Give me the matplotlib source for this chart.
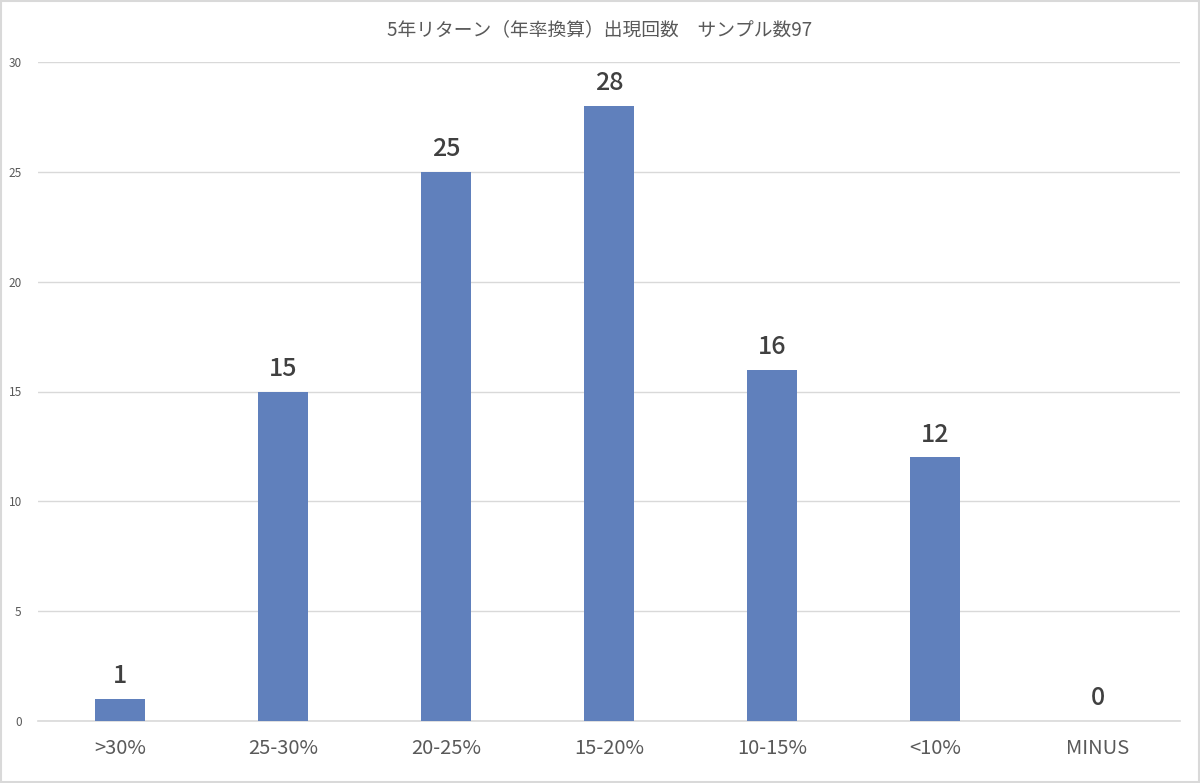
import matplotlib.pyplot as plt
from matplotlib.patches import Rectangle

plt.rcParams['font.family'] = ['Noto Sans CJK JP', 'DejaVu Sans']

# data
categories = ['>30%', '25-30%', '20-25%', '15-20%', '10-15%', '<10%', 'MINUS']
counts = [1, 15, 25, 28, 16, 12, 0]
title = '5年リターン（年率換算）出現回数　サンプル数97'

fig = plt.figure(figsize=(12, 7.83), dpi=100)
ax = fig.add_axes([0.032, 0.0792, 0.951, 0.8416])

x = range(len(categories))
bars = ax.bar(x, counts, width=0.31, color='#6080BC', zorder=3)

for xi, v in zip(x, counts):
    ax.text(xi, v + 0.45, str(v), ha='center', va='bottom',
            fontsize=18, fontweight='medium', color='#404040')

ax.set_xlim(-0.5, len(categories) - 0.5)
ax.set_ylim(0, 30)
ax.set_yticks(range(0, 31, 5))
ax.grid(axis='y', color='#D9D9D9', linewidth=1, zorder=0)
ax.axhline(0, color='#D9D9D9', linewidth=1.2, zorder=2, clip_on=False)
for s in ax.spines.values():
    s.set_visible(False)
ax.tick_params(axis='both', length=0)
ax.tick_params(axis='y', labelsize=8.5, labelcolor='#595959', pad=12)
ax.tick_params(axis='x', labelsize=14.5, labelcolor='#595959', pad=12)
ax.set_xticks(list(x))
ax.set_xticklabels(categories)

fig.text(0.5, 0.962, title, ha='center', va='center', fontsize=13.5, color='#595959')

# chart border
fig.patches.append(Rectangle((0.001, 0.001), 0.998, 0.998, transform=fig.transFigure,
                             fill=False, edgecolor='#D9D9D9', linewidth=1.5))

fig.savefig('out.png', dpi=100)
